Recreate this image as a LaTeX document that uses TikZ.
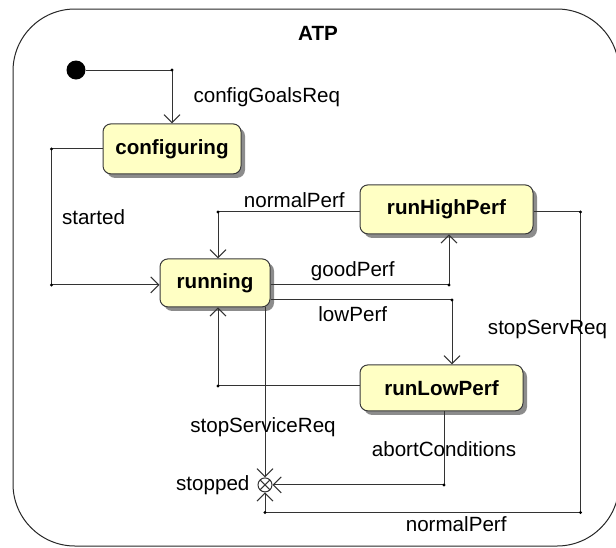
\documentclass[tikz,border=0pt]{standalone}
\usepackage{fontspec}
\setmainfont{Liberation Sans}
\usetikzlibrary{arrows.meta, positioning, shadows}
\definecolor{stfill}{HTML}{FFFFC4}
\definecolor{stdraw}{HTML}{3A3A3A}
\definecolor{stshade}{HTML}{8C8C8C}

\begin{document}
\begin{tikzpicture}[
    font=\fontsize{10.3}{12}\selectfont,
    state/.style={rectangle, rounded corners=4pt, draw=stdraw, fill=stfill,
                  inner sep=0pt, font=\fontsize{10.3}{12}\selectfont\bfseries,
                  line width=0.5pt,
                  drop shadow={shadow xshift=2pt, shadow yshift=-2pt, fill=stshade, opacity=1}},
    stopnode/.style={circle, draw=black!80, fill=white, minimum size=7pt,
                  inner sep=0pt, line width=0.5pt,
                  path picture={\draw[black!80, line width=0.5pt]
                    (path picture bounding box.north west) -- (path picture bounding box.south east)
                    (path picture bounding box.north east) -- (path picture bounding box.south west);}},
    trans/.style={-{Straight Barb[length=4pt, width=8pt]}, line width=0.5pt, black!80},
    knee/.style={circle, fill=black, inner sep=0pt, minimum size=1.6pt},
    lbl/.style={inner sep=1pt, text=black}
  ]
    \useasboundingbox (0,0) rectangle (308pt,-273.5pt);
    \draw[line width=0.5pt, black!85, rounded corners=31pt] (6.5pt,-4.5pt) rectangle (309.5pt,-273pt);
    \node[font=\fontsize{10.3}{12}\selectfont\bfseries] (atp) at (159pt,-16.5pt) {ATP};

    % states
    \node[circle, fill=black, minimum size=9.5pt, inner sep=0pt] (init) at (38pt,-35pt) {};
    \node[state, minimum width=69pt, minimum height=25pt, below=21.75pt of init, xshift=48pt] (configuring) {configuring};
    \node[state, minimum width=55pt, minimum height=24pt, below=42pt of configuring, xshift=21.5pt] (running) {running};
    \node[state, minimum width=86.5pt, minimum height=24.5pt, right=44.5pt of running, yshift=36.75pt] (runHighPerf) {runHighPerf};
    \node[state, minimum width=81.5pt, minimum height=23pt, right=44.5pt of running, yshift=-52.5pt] (runLowPerf) {runLowPerf};
    \node[stopnode, below=85pt of running, xshift=25pt, label={[label distance=0.5pt]left:stopped}] (stopped) {};

    % transitions
    \draw[trans] (init) -| node[knee, pos=0.5] (b1) {}
      node[lbl, pos=0.75, right=9.5pt] (cgr) {configGoalsReq} (configuring);
    \draw[trans] (configuring.west) -- ++(-25.5pt,0) node[knee] (b2) {}
      |- node[knee, pos=0.5] (b3) {} node[lbl, pos=0.25, right=4pt] (started) {started}
      ([yshift=-1pt]running.west);
    \draw[trans] ([yshift=-1.25pt]runHighPerf.west) -| node[knee, pos=0.5] (b4) {}
      node[lbl, pos=0.25, above=1pt, xshift=2.75pt] (np1) {normalPerf} ([xshift=1.5pt]running.north);
    \draw[trans] ([yshift=-1pt]running.east) -| node[knee, pos=0.5] (b5) {}
      node[lbl, pos=0.25, above=1pt, xshift=-3.5pt] (gp) {goodPerf} ([xshift=1.25pt]runHighPerf.south);
    \draw[trans] ([yshift=-8.5pt]running.east) -| node[knee, pos=0.5] (b6) {}
      node[lbl, pos=0.25, below=2pt, xshift=-4.25pt] (lp) {lowPerf} ([xshift=5.25pt]runLowPerf.north);
    \draw[trans] ([yshift=1pt]runLowPerf.west) -| node[knee, pos=0.5] (b7) {} ([xshift=1.5pt]running.south);
    \draw[trans] (running.south -| stopped) -- node[lbl, pos=0.705, xshift=-1pt] (ssr) {stopServiceReq} (stopped);
    \draw[trans] ([xshift=1.25pt]runLowPerf.south) |- node[knee, pos=0.5] (b8) {}
      node[lbl, pos=0.26] (ac) {abortConditions} (stopped);
    \draw[trans] ([yshift=-1.25pt]runHighPerf.east) -- ++(23.5pt,0) node[knee] (b9) {}
      |- node[knee, pos=0.5] (b10) {} node[lbl, pos=0.196, xshift=-16.5pt] (ssq) {stopServReq}
      node[lbl, pos=0.697, below=1pt] (np2) {normalPerf} ([yshift=-10pt]stopped.south)
      node[knee] (b11) {} -- (stopped);
  \end{tikzpicture}
\end{document}
